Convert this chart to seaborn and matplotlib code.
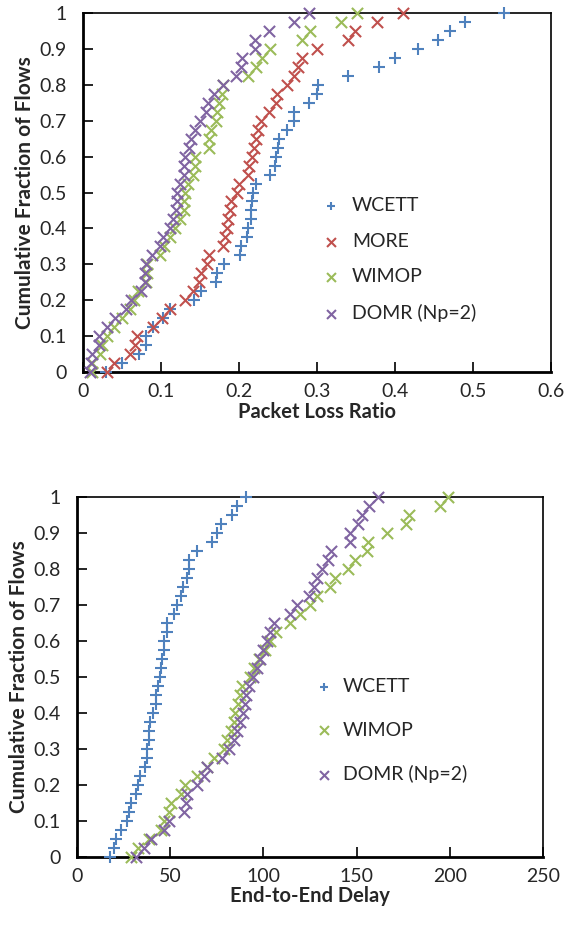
import numpy as np
import pandas as pd
import matplotlib
matplotlib.use("Agg")
import matplotlib.pyplot as plt
import seaborn as sns
from matplotlib.ticker import FuncFormatter

# cumulative fraction levels (41 flows, 0..1)
frac = [i / 40 for i in range(41)]

# --- top panel: packet loss ratio per protocol (sorted, one per flow level)
loss_wcett = [0.03, 0.05, 0.072, 0.081, 0.081, 0.09, 0.102, 0.112, 0.142, 0.151,
              0.171, 0.172, 0.181, 0.201, 0.202, 0.21, 0.211, 0.215, 0.216, 0.217,
              0.218, 0.222, 0.24, 0.246, 0.247, 0.25, 0.251, 0.261, 0.271, 0.271,
              0.29, 0.3, 0.301, 0.34, 0.38, 0.4, 0.43, 0.455, 0.47, 0.49, 0.54]
loss_more = [0.031, 0.04, 0.06, 0.067, 0.069, 0.09, 0.101, 0.112, 0.131, 0.141,
             0.149, 0.151, 0.159, 0.161, 0.18, 0.182, 0.185, 0.186, 0.188, 0.19,
             0.198, 0.2, 0.211, 0.213, 0.217, 0.219, 0.222, 0.224, 0.228, 0.239,
             0.247, 0.249, 0.261, 0.271, 0.276, 0.281, 0.3, 0.34, 0.349, 0.377, 0.41]
loss_wimop = [0.011, 0.012, 0.022, 0.025, 0.031, 0.04, 0.05, 0.06, 0.066, 0.07,
              0.081, 0.082, 0.082, 0.099, 0.104, 0.111, 0.118, 0.124, 0.129, 0.13,
              0.131, 0.135, 0.141, 0.143, 0.144, 0.161, 0.162, 0.164, 0.17, 0.172,
              0.175, 0.178, 0.18, 0.212, 0.222, 0.23, 0.24, 0.281, 0.291, 0.331, 0.351]
loss_domr = [0.009, 0.01, 0.011, 0.02, 0.021, 0.031, 0.041, 0.055, 0.062, 0.074,
             0.079, 0.08, 0.081, 0.089, 0.099, 0.102, 0.111, 0.116, 0.119, 0.12,
             0.121, 0.124, 0.129, 0.13, 0.131, 0.136, 0.139, 0.143, 0.15, 0.158,
             0.16, 0.168, 0.179, 0.196, 0.203, 0.204, 0.22, 0.221, 0.239, 0.27, 0.29]

# --- bottom panel: end-to-end delay per protocol
delay_wcett = [17.8, 19.6, 20.9, 23.5, 26.7, 28.0, 28.9, 31.6, 32.8, 33.9,
               36.5, 37.8, 37.8, 38.7, 38.7, 39.2, 41.0, 42.2, 42.2, 43.7,
               44.5, 44.9, 45.8, 46.7, 46.7, 48.1, 48.1, 52.0, 53.8, 56.0,
               57.0, 58.8, 60.1, 60.1, 64.5, 72.2, 75.2, 77.0, 82.9, 85.9, 90.4]
delay_wimop = [28.9, 32.5, 38.7, 44.9, 46.7, 49.4, 50.3, 55.6, 57.8, 64.5,
               69.9, 73.4, 78.8, 80.5, 82.4, 84.1, 84.5, 86.5, 87.3, 88.6,
               93.0, 95.2, 97.5, 101.1, 103.7, 107.0, 114.4, 119.8, 124.8, 128.7,
               135.5, 138.5, 145.6, 149.2, 155.4, 156.3, 166.5, 176.5, 178.2, 194.7, 199.1]
delay_domr = [31.6, 36.0, 39.6, 46.7, 49.4, 57.4, 58.3, 59.2, 64.5, 68.1,
              69.9, 77.9, 81.4, 84.1, 85.9, 87.7, 89.3, 90.2, 90.6, 92.5,
              94.5, 96.7, 98.0, 99.8, 102.0, 103.7, 105.9, 114.4, 118.0, 124.2,
              127.4, 128.7, 131.4, 134.9, 136.2, 146.2, 146.5, 151.0, 152.8, 156.8, 161.7]

colors = {"WCETT": "#4F81BD", "MORE": "#C0504D", "WIMOP": "#9BBB59", "DOMR (Np=2)": "#8064A2"}
markers = {"WCETT": "+", "MORE": "x", "WIMOP": "x", "DOMR (Np=2)": "x"}

sns.set_theme(style="white")
plt.rcParams["font.family"] = ["Lato", "DejaVu Sans"]

fig = plt.figure(figsize=(5.66, 9.32), dpi=100)
ax_top = fig.add_axes([83 / 566, 1 - 372 / 932, 468 / 566, 359 / 932])
ax_bot = fig.add_axes([77 / 566, 1 - 857 / 932, 466 / 566, 360 / 932])

top_series = [("WCETT", loss_wcett), ("MORE", loss_more), ("WIMOP", loss_wimop), ("DOMR (Np=2)", loss_domr)]
bot_series = [("WCETT", delay_wcett), ("WIMOP", delay_wimop), ("DOMR (Np=2)", delay_domr)]


def draw(ax, series):
    for name, vals in series:
        df = pd.DataFrame({"x": vals, "y": frac})
        sns.scatterplot(data=df, x="x", y="y", ax=ax, marker=markers[name],
                        color=colors[name], s=65, linewidth=1.5, label=name,
                        zorder=3, clip_on=False)


draw(ax_top, top_series)
draw(ax_bot, bot_series)

fmt = FuncFormatter(lambda v, p: f"{v:g}")
for ax in (ax_top, ax_bot):
    ax.set_ylim(0, 1)
    ax.set_yticks(np.arange(0, 1.01, 0.1))
    ax.yaxis.set_major_formatter(fmt)
    ax.xaxis.set_major_formatter(fmt)
    ax.tick_params(direction="in", length=7, width=1.2, color="black",
                   labelsize=14, pad=8, left=True, bottom=True)
    ax.tick_params(axis="y", pad=12)
    for side in ("left", "bottom"):
        ax.spines[side].set_linewidth(2)
        ax.spines[side].set_color("black")
    for side in ("top", "right"):
        ax.spines[side].set_linewidth(1.2)
        ax.spines[side].set_color("black")
    ax.set_ylabel("Cumulative Fraction of Flows", fontsize=15, fontweight="bold", labelpad=3)

ax_top.set_xlim(0, 0.6)
ax_top.set_xticks(np.arange(0, 0.61, 0.1))
ax_top.set_xlabel("Packet Loss Ratio", fontsize=14.5, fontweight="bold", labelpad=1)

ax_bot.set_xlim(0, 250)
ax_bot.set_xticks(np.arange(0, 251, 50))
ax_bot.set_xlabel("End-to-End Delay", fontsize=14.5, fontweight="bold", labelpad=1)

ax_top.legend(loc="upper left", bbox_to_anchor=(0.45, 0.535), frameon=False,
              fontsize=14, labelspacing=0.95, handletextpad=0.1, markerscale=0.8)
ax_bot.legend(loc="upper left", bbox_to_anchor=(0.45, 0.545), frameon=False,
              fontsize=14, labelspacing=1.35, handletextpad=0.0, markerscale=0.8)

fig.savefig("out.png", dpi=100)
